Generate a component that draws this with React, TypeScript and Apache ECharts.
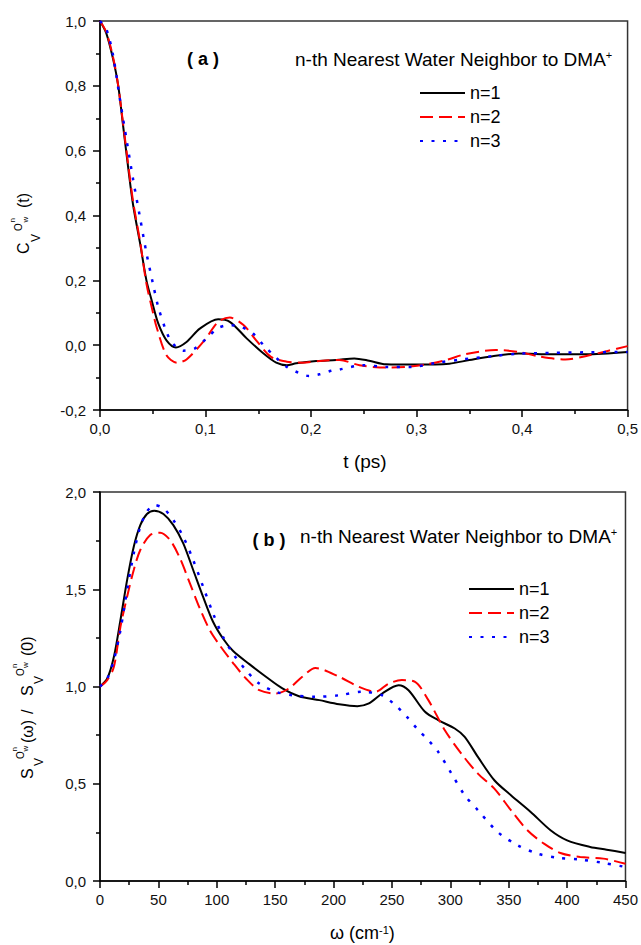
import React, { useEffect, useRef } from 'react';
import * as echarts from 'echarts';

// ---- Panel (a): velocity autocorrelation C(t), t in ps ----
const A_N1: [number, number][] = [
  [0, 1.0], [0.006, 0.962], [0.0126, 0.88], [0.0173, 0.8], [0.022, 0.674], [0.027, 0.54],
  [0.0315, 0.43], [0.038, 0.314], [0.044, 0.2], [0.049, 0.138], [0.0552, 0.067], [0.063, 0.015],
  [0.072, -0.007], [0.082, 0.01], [0.0946, 0.051], [0.112, 0.08], [0.123, 0.072], [0.139, 0.021],
  [0.155, -0.026], [0.167, -0.054], [0.177, -0.062], [0.186, -0.056], [0.205, -0.049], [0.224, -0.046],
  [0.241, -0.041], [0.255, -0.048], [0.271, -0.059], [0.299, -0.06], [0.331, -0.057], [0.35, -0.046],
  [0.372, -0.034], [0.397, -0.026], [0.429, -0.028], [0.46, -0.028], [0.5, -0.021],
];
const A_N2: [number, number][] = [
  [0, 1.0], [0.006, 0.965], [0.0126, 0.885], [0.0173, 0.8], [0.022, 0.68], [0.027, 0.55],
  [0.0315, 0.44], [0.038, 0.32], [0.044, 0.19], [0.0504, 0.098], [0.0536, 0.056], [0.063, -0.031],
  [0.073, -0.054], [0.082, -0.044], [0.099, 0.015], [0.112, 0.072], [0.123, 0.085], [0.136, 0.062],
  [0.148, 0.015], [0.162, -0.036], [0.177, -0.051], [0.192, -0.054], [0.211, -0.048], [0.227, -0.046],
  [0.246, -0.062], [0.271, -0.069], [0.29, -0.067], [0.309, -0.059], [0.328, -0.046], [0.346, -0.028],
  [0.375, -0.015], [0.397, -0.021], [0.415, -0.034], [0.441, -0.044], [0.46, -0.034], [0.482, -0.017],
  [0.5, -0.003],
];
const A_N3: [number, number][] = [
  [0, 1.0], [0.0063, 0.972], [0.0126, 0.89], [0.019, 0.756], [0.0252, 0.633], [0.0315, 0.509],
  [0.0378, 0.396], [0.0441, 0.283], [0.0505, 0.185], [0.0552, 0.118], [0.063, 0.041], [0.069, 0.005],
  [0.079, -0.017], [0.09, -0.01], [0.101, 0.021], [0.112, 0.053], [0.123, 0.062], [0.134, 0.056],
  [0.145, 0.036], [0.155, 0.0], [0.166, -0.036], [0.177, -0.067], [0.188, -0.085], [0.198, -0.095],
  [0.208, -0.09], [0.219, -0.079], [0.227, -0.075], [0.249, -0.062], [0.271, -0.067], [0.296, -0.067],
  [0.318, -0.055], [0.343, -0.044], [0.372, -0.034], [0.397, -0.026], [0.429, -0.024], [0.46, -0.022],
  [0.5, -0.021],
];

// ---- Panel (b): normalized spectral density S(w)/S(0), w in cm-1 ----
const B_N1: [number, number][] = [
  [0, 1.0], [6.2, 1.041], [11.9, 1.153], [17.5, 1.341], [23.2, 1.547], [28.9, 1.719], [34.5, 1.83],
  [40.2, 1.887], [46.4, 1.904], [54.3, 1.887], [62.8, 1.83], [71.3, 1.736], [79.8, 1.599], [88.3, 1.461],
  [96.8, 1.333], [105.3, 1.247], [113.8, 1.184], [127.9, 1.115], [142.1, 1.05], [156.2, 0.99],
  [170.4, 0.95], [187.8, 0.93], [204.8, 0.909], [220.4, 0.899], [230.3, 0.913], [241.6, 0.964],
  [255.7, 1.007], [264.2, 0.981], [278.3, 0.87], [289.6, 0.827], [303.8, 0.784], [312.3, 0.741],
  [323.6, 0.638], [337.7, 0.518], [351.9, 0.441], [368.8, 0.355], [385.8, 0.261], [400, 0.209],
  [419.7, 0.175], [433.9, 0.161], [450, 0.144],
];
const B_N2: [number, number][] = [
  [0, 1.0], [6.2, 1.033], [11.9, 1.101], [17.5, 1.307], [23.2, 1.461], [28.9, 1.599], [34.5, 1.702],
  [43, 1.779], [51.5, 1.791], [60, 1.753], [68.5, 1.659], [77, 1.53], [85.5, 1.401], [94, 1.29],
  [102.4, 1.213], [113.8, 1.122], [125, 1.041], [136.4, 0.981], [150.5, 0.964], [161.8, 0.99],
  [173.2, 1.05], [184.5, 1.095], [204.8, 1.05], [221.8, 0.998], [235.9, 0.973], [247.2, 1.015],
  [258.5, 1.033], [269.8, 1.024], [281.2, 0.93], [295.3, 0.775], [309.4, 0.655], [323.6, 0.552],
  [337.7, 0.475], [351.9, 0.364], [366, 0.261], [380.2, 0.192], [394.3, 0.144], [411.2, 0.123],
  [431, 0.115], [450, 0.089],
];
const B_N3: [number, number][] = [
  [0, 1.0], [6.2, 1.041], [11.9, 1.136], [17.5, 1.29], [23.2, 1.496], [28.9, 1.684], [34.5, 1.822],
  [40.2, 1.899], [46.4, 1.933], [54.3, 1.916], [62.8, 1.856], [71.3, 1.77], [79.8, 1.65], [88.3, 1.513],
  [96.8, 1.376], [105.3, 1.256], [113.8, 1.17], [125, 1.084], [136.4, 1.015], [150.5, 0.973],
  [164.7, 0.955], [184.5, 0.947], [204.8, 0.955], [224.6, 0.973], [241.6, 0.955], [252.9, 0.904],
  [262.8, 0.844], [272.7, 0.775], [281.2, 0.724], [289.6, 0.664], [301, 0.552], [312.3, 0.441],
  [323.6, 0.364], [340.6, 0.252], [357.5, 0.184], [374.5, 0.141], [391.5, 0.12], [411.2, 0.11],
  [431, 0.093], [450, 0.072],
];

const SERIES_NAMES = ['n=1', 'n=2', 'n=3'];
const ANNOTATION = 'n-th Nearest Water Neighbor to DMA';

const FONT = '"Liberation Sans", Arial, Helvetica, sans-serif';

const comma = (v: number) => v.toFixed(1).replace('.', ',');

export default function App() {
  const ref = useRef<HTMLDivElement>(null);

  useEffect(() => {
    const chart = echarts.init(ref.current!, null, { renderer: 'svg' });

    const axisLine = { show: true, onZero: false, lineStyle: { color: '#000', width: 1.5 } };
    const axisTick = { show: true, inside: false, length: 7, lineStyle: { color: '#000', width: 1.5 } };
    const minorTick = { show: true, splitNumber: 2, length: 4, lineStyle: { color: '#000', width: 1.5 } };
    const label = (fmt: (v: number) => string, margin: number) => ({
      fontSize: 15,
      color: '#111',
      fontFamily: FONT,
      margin,
      formatter: fmt,
    });

    const styles = [
      { color: '#000000', width: 2, type: 'solid' as any },
      { color: '#ff0000', width: 2, type: [13, 6] as any },
      { color: '#0000ff', width: 2.5, type: [3, 8.5] as any },
    ];
    const mk = (name: string, data: [number, number][], idx: number, s: any) => ({
      name,
      type: 'line',
      xAxisIndex: idx,
      yAxisIndex: idx,
      data,
      smooth: 0.3,
      symbol: 'none',
      showSymbol: false,
      lineStyle: { color: s.color, width: s.width, type: s.type },
      itemStyle: { color: s.color },
    });

    const legend = (left: number, top: number) => ({
      data: SERIES_NAMES,
      orient: 'vertical',
      left,
      top,
      padding: 0,
      itemWidth: 45,
      itemHeight: 14,
      itemGap: 6,
      selectedMode: false,
      itemStyle: { color: 'rgba(0,0,0,0)', borderWidth: 0, opacity: 0 },
      textStyle: { fontSize: 18, color: '#000', fontFamily: FONT },
    });

    const rotText = (text: string, x: number, y: number, fontSize: number) => ({
      type: 'text',
      x,
      y,
      rotation: Math.PI / 2,
      style: {
        text,
        fontSize,
        fontFamily: FONT,
        fill: '#000',
        align: 'left',
        verticalAlign: 'middle',
      },
    });

    const flatText = (text: string, x: number, y: number, fontSize: number, align: string, bold = false) => ({
      type: 'text',
      x,
      y,
      style: {
        text,
        fontSize,
        fontWeight: bold ? 'bold' : 'normal',
        fontFamily: FONT,
        fill: '#000',
        align,
        verticalAlign: 'middle',
      },
    });

    const richText = (main: string, sup: string, tail: string, x: number, y: number, fontSize: number) => ({
      type: 'text',
      x,
      y,
      style: {
        text: `{m|${main}}{s|${sup}}` + (tail ? `{m|${tail}}` : ''),
        fontFamily: FONT,
        fill: '#000',
        align: 'left',
        verticalAlign: 'middle',
        rich: {
          m: { fontSize, fontFamily: FONT, fill: '#000', color: '#000' },
          s: { fontSize: 11, fontFamily: FONT, fill: '#000', color: '#000', verticalAlign: 'top' },
        },
      },
    });

    const option: any = {
      animation: false,
      textStyle: { fontFamily: FONT },
      grid: [
        { left: 100, top: 21, width: 529, height: 389, show: true, borderColor: '#333', borderWidth: 1.5 },
        { left: 100, top: 492, width: 529, height: 389, show: true, borderColor: '#333', borderWidth: 1.5 },
      ],
      xAxis: [
        {
          type: 'value', gridIndex: 0, min: 0, max: 0.5, interval: 0.1,
          axisLine, axisTick, minorTick, splitLine: { show: false }, minorSplitLine: { show: false },
          axisLabel: label(comma, 11),
        },
        {
          type: 'value', gridIndex: 1, min: 0, max: 450, interval: 50,
          axisLine, axisTick, minorTick, splitLine: { show: false }, minorSplitLine: { show: false },
          axisLabel: label((v: number) => String(Math.round(v)), 11),
        },
      ],
      yAxis: [
        {
          type: 'value', gridIndex: 0, min: -0.2, max: 1.0, interval: 0.2,
          axisLine, axisTick, minorTick, splitLine: { show: false }, minorSplitLine: { show: false },
          axisLabel: label(comma, 14),
        },
        {
          type: 'value', gridIndex: 1, min: 0, max: 2.0, interval: 0.5,
          axisLine, axisTick, minorTick, splitLine: { show: false }, minorSplitLine: { show: false },
          axisLabel: label(comma, 14),
        },
      ],
      legend: [legend(419, 84), legend(468, 580)],
      series: [
        mk(SERIES_NAMES[0], A_N1, 0, styles[0]),
        mk(SERIES_NAMES[1], A_N2, 0, styles[1]),
        mk(SERIES_NAMES[2], A_N3, 0, styles[2]),
        mk(SERIES_NAMES[0], B_N1, 1, styles[0]),
        mk(SERIES_NAMES[1], B_N2, 1, styles[1]),
        mk(SERIES_NAMES[2], B_N3, 1, styles[2]),
      ],
      graphic: [
        // panel (a) annotations
        flatText('( a )', 203, 59, 18, 'center', true),
        richText(ANNOTATION, '+', '', 295, 59, 19),
        flatText('t (ps)', 365, 461, 19, 'center'),
        // panel (a) y-axis title: C_V^{O_w^n} (t)
        rotText('C', 23, 254, 16),
        rotText('V', 36, 242, 12),
        rotText('O', 18.5, 231, 10),
        rotText('w', 25, 222.5, 8),
        rotText('n', 12.5, 222.5, 8),
        rotText('(t)', 23, 208, 16),
        // panel (b) annotations
        flatText('( b )', 269, 540, 18, 'center', true),
        richText(ANNOTATION, '+', '', 300, 536, 19),
        richText('ω (cm', '-1', ')', 330, 933, 18),
        // panel (b) y-axis title: S_V^{O_w^n}(ω) / S_V^{O_w^n}(0)
        rotText('S', 27.5, 779, 16),
        rotText('V', 38.5, 766, 12),
        rotText('O', 20, 759, 10),
        rotText('w', 25, 751.5, 8),
        rotText('n', 14.5, 751.5, 8),
        rotText('(ω)', 27, 743, 16),
        rotText('/', 27, 714, 16),
        rotText('S', 27.5, 696, 16),
        rotText('V', 38.5, 684, 12),
        rotText('O', 20, 676, 10),
        rotText('w', 25, 668, 8),
        rotText('n', 14.5, 668, 8),
        rotText('(0)', 27, 656, 16),
      ],
    };

    chart.setOption(option);
    return () => chart.dispose();
  }, []);

  return (
    <div
      ref={ref}
      style={{ position: 'absolute', left: 0, top: 0, width: 641, height: 945, background: '#fff' }}
    />
  );
}
